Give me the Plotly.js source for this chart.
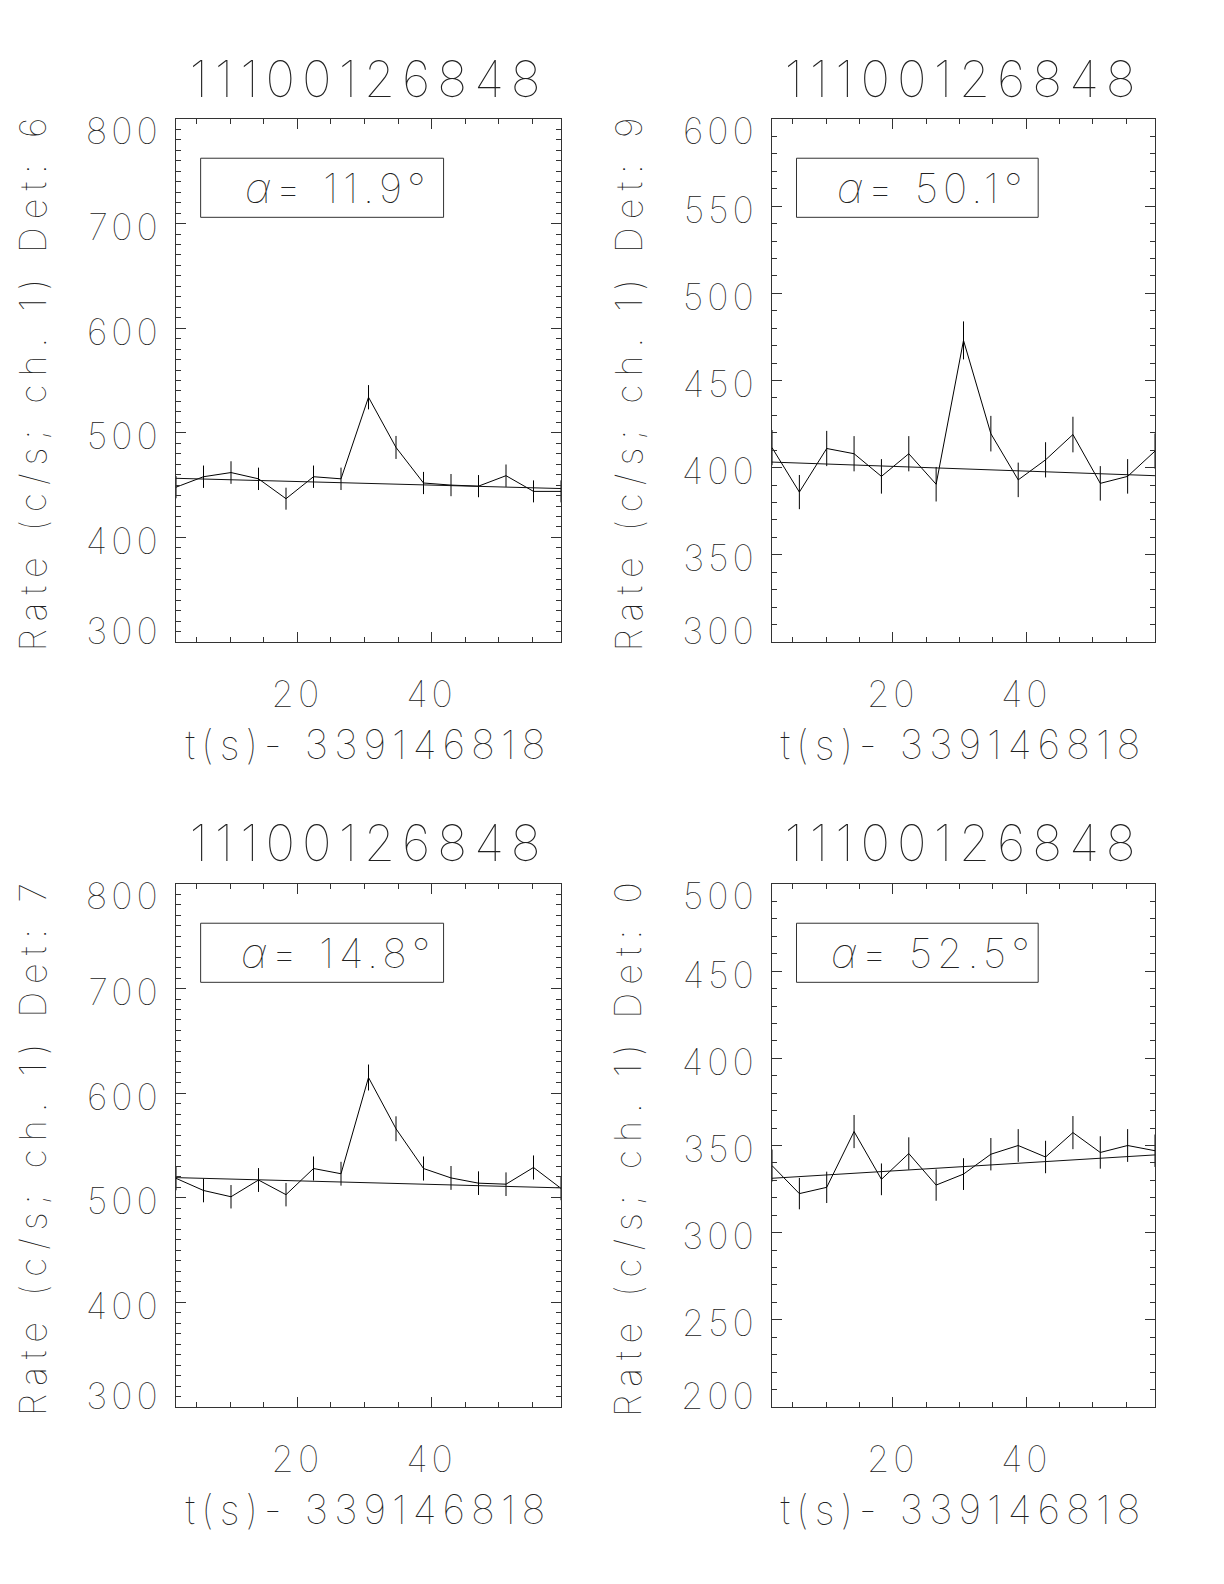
<!DOCTYPE html>
<html>
<head>
<meta charset="utf-8">
<script src="https://cdn.plot.ly/plotly-3.0.1.min.js"></script>
<style>html,body{margin:0;padding:0;background:#fff;}</style>
</head>
<body>
<div id="chart" style="width:1224px;height:1584px;"></div>
<script>
// ---- data ----
var timeSec = [1.9, 6.0, 10.1, 14.2, 18.3, 22.4, 26.5, 30.6, 34.7, 38.8, 42.9, 47.0, 51.1, 55.2, 59.3];
var tickLabelsX = [20, 40];
var burstId = "11100126848";
var timeOffset = "339146818";

var det6Rate = [448, 458, 462, 456, 437, 458, 456, 534, 486, 452, 450, 449, 459, 444, 444];
var det6Err  = [10.6, 10.7, 10.8, 10.7, 10.5, 10.7, 10.7, 11.6, 11.0, 10.6, 10.6, 10.6, 10.7, 10.5, 10.5];
var det6Fit  = [456.5, 446.7];

var det9Rate = [411.5, 386, 411, 408, 395, 408, 390.5, 473, 419.5, 393, 404.5, 419, 391, 395, 409.5];
var det9Err  = [10.1, 9.8, 10.1, 10.1, 9.9, 10.1, 9.9, 10.9, 10.2, 9.9, 10.1, 10.2, 9.9, 9.9, 10.1];
var det9Fit  = [403.2, 395.4];

var det7Rate = [518.6, 507, 501, 517, 503, 528, 523, 615, 566, 528, 519, 514, 513, 529, 509];
var det7Err  = [11.4, 11.3, 11.2, 11.4, 11.2, 11.5, 11.4, 12.4, 11.9, 11.5, 11.4, 11.3, 11.3, 11.5, 11.3];
var det7Fit  = [519.3, 509.5];

var det0Rate = [338.5, 322.4, 326, 358, 330.6, 345.4, 327.3, 333.6, 345, 350, 343.4, 357.4, 346, 350, 347];
var det0Err  = [9.2, 9.0, 9.0, 9.5, 9.1, 9.3, 9.0, 9.1, 9.3, 9.4, 9.3, 9.5, 9.3, 9.4, 9.3];
var det0Fit  = [331.2, 344.6];

var panels = [
  {det: "6", alpha: "11.9", rate: det6Rate, err: det6Err, fit: det6Fit, yr: [300, 800], dy: 100},
  {det: "9", alpha: "50.1", rate: det9Rate, err: det9Err, fit: det9Fit, yr: [300, 600], dy: 50},
  {det: "7", alpha: "14.8", rate: det7Rate, err: det7Err, fit: det7Fit, yr: [300, 800], dy: 100},
  {det: "0", alpha: "52.5", rate: det0Rate, err: det0Err, fit: det0Fit, yr: [200, 500], dy: 50}
];

// ---- layout geometry (paper pixels) ----
var W = 1224, H = 1584;
var xDoms = [[176, 561], [772, 1155]];
var yDoms = [[119, 642], [884, 1407]];
var titleY = [79, 843];
var FONT = "Inter, 'DejaVu Sans', sans-serif";
var TXT = "#222";
var WGT = 100;

var data = [];
var layout = {
  width: W, height: H,
  margin: {l: 0, r: 0, t: 0, b: 0},
  paper_bgcolor: "#fff", plot_bgcolor: "#fff",
  showlegend: false,
  font: {family: FONT, color: TXT, size: 36, weight: WGT},
  annotations: [], shapes: []
};

panels.forEach(function (p, i) {
  var col = i % 2, row = Math.floor(i / 2);
  var n = i + 1;
  var xa = "x" + (n === 1 ? "" : n), ya = "y" + (n === 1 ? "" : n);
  var xk = "xaxis" + (n === 1 ? "" : n), yk = "yaxis" + (n === 1 ? "" : n);
  var xd = xDoms[col], yd = yDoms[row];

  data.push({
    type: "scatter", mode: "lines", x: timeSec, y: p.rate,
    xaxis: xa, yaxis: ya, line: {color: "#000", width: 1},
    error_y: {type: "data", array: p.err, visible: true, color: "#000", thickness: 1, width: 0},
    hoverinfo: "x+y"
  });
  data.push({
    type: "scatter", mode: "lines", x: [timeSec[0], timeSec[timeSec.length - 1]], y: p.fit,
    xaxis: xa, yaxis: ya, line: {color: "#111", width: 1}, hoverinfo: "skip"
  });

  layout[xk] = {
    domain: [xd[0] / W, xd[1] / W],
    anchor: ya,
    range: [timeSec[0], timeSec[timeSec.length - 1]],
    tickmode: "array", tickvals: tickLabelsX, ticktext: tickLabelsX.map(String),
    ticks: "inside", ticklen: 10, tickwidth: 1, tickcolor: "#333",
    minor: {ticks: "inside", ticklen: 5, tickmode: "linear", tick0: 0, dtick: 5, tickcolor: "#333", tickwidth: 1, showgrid: false},
    mirror: "ticks", showline: true, linecolor: "#333", linewidth: 1,
    showgrid: false, zeroline: false,
    tickfont: {family: FONT, size: 36, color: TXT, weight: WGT},
    ticklabelstandoff: 21,
    title: {text: "t(s)- " + timeOffset, font: {family: FONT, size: 40, color: TXT, weight: WGT}, standoff: 15}
  };
  layout[yk] = {
    domain: [1 - yd[1] / H, 1 - yd[0] / H],
    anchor: xa,
    range: p.yr,
    tickmode: "linear", tick0: 0, dtick: p.dy,
    ticks: "inside", ticklen: 10, tickwidth: 1, tickcolor: "#333",
    minor: {ticks: "inside", ticklen: 5, tickmode: "linear", tick0: 0, dtick: 10, tickcolor: "#333", tickwidth: 1, showgrid: false},
    mirror: "ticks", showline: true, linecolor: "#333", linewidth: 1,
    showgrid: false, zeroline: false,
    tickfont: {family: FONT, size: 36, color: TXT, weight: WGT},
    ticklabelstandoff: 6,
    ticklabelshift: 4,
    title: {text: "Rate (c/s; ch. 1) Det: " + p.det, font: {family: FONT, size: 36, color: TXT, weight: WGT}, standoff: 40}
  };

  // subplot title
  layout.annotations.push({
    xref: xa + " domain", yref: ya + " domain", x: 0.5, y: 1 + (yd[0] - titleY[row]) / (yd[1] - yd[0]),
    xanchor: "center", yanchor: "middle", showarrow: false,
    text: burstId, font: {family: FONT, size: 50, color: TXT, weight: WGT}
  });
  // alpha box
  layout.shapes.push({
    type: "rect", xref: xa + " domain", yref: ya + " domain",
    x0: 0.064, x1: 0.695, y0: 0.812, y1: 0.925,
    line: {color: "#333", width: 1}, fillcolor: "rgba(0,0,0,0)"
  });
  layout.annotations.push({
    xref: xa + " domain", yref: ya + " domain", x: 0.42, y: 0.868,
    xanchor: "center", yanchor: "middle", showarrow: false,
    text: "<i>α</i>= " + p.alpha + "°", font: {family: FONT, size: 41, color: TXT, weight: WGT}
  });
});

// widen the letter spacing to mimic the wide stroke font of the original,
// and pull the end labels of each y axis inward as in the original
function restyleText() {
  var gd = document.getElementById("chart");
  gd.querySelectorAll("g").forEach(function (g) {
    var c = g.getAttribute("class") || "";
    if (/^[xy]\d*tick$/.test(c)) {
      var t = g.querySelector("text");
      if (t) t.setAttribute("letter-spacing", "4px");
    }
  });
  gd.querySelectorAll("text").forEach(function (t) {
    var c = (t.getAttribute("class") || "");
    if (/^[xy]\d*title$/.test(c)) {
      t.setAttribute("letter-spacing", c.charAt(0) === "y" ? "8px" : "6px");
    } else if (c.indexOf("annotation-text") >= 0) {
      t.setAttribute("letter-spacing", t.textContent === burstId ? "7px" : "5px");
    }
  });
  gd.querySelectorAll("g.subplot").forEach(function (sp) {
    var labs = [];
    sp.querySelectorAll("g").forEach(function (g) {
      var c = g.getAttribute("class") || "";
      if (/^y\d*tick$/.test(c)) {
        var t = g.querySelector("text");
        if (t) labs.push(t);
      }
    });
    if (labs.length < 2) return;
    labs.sort(function (a, b) { return a.getBoundingClientRect().top - b.getBoundingClientRect().top; });
    var shift = function (t, d) {
      t.setAttribute("transform", (t.getAttribute("transform") || "") + " translate(0," + d + ")");
    };
    shift(labs[0], 8);
    shift(labs[labs.length - 1], -15);
  });
}

Plotly.newPlot("chart", data, layout, {staticPlot: true}).then(restyleText);
</script>
</body>
</html>
